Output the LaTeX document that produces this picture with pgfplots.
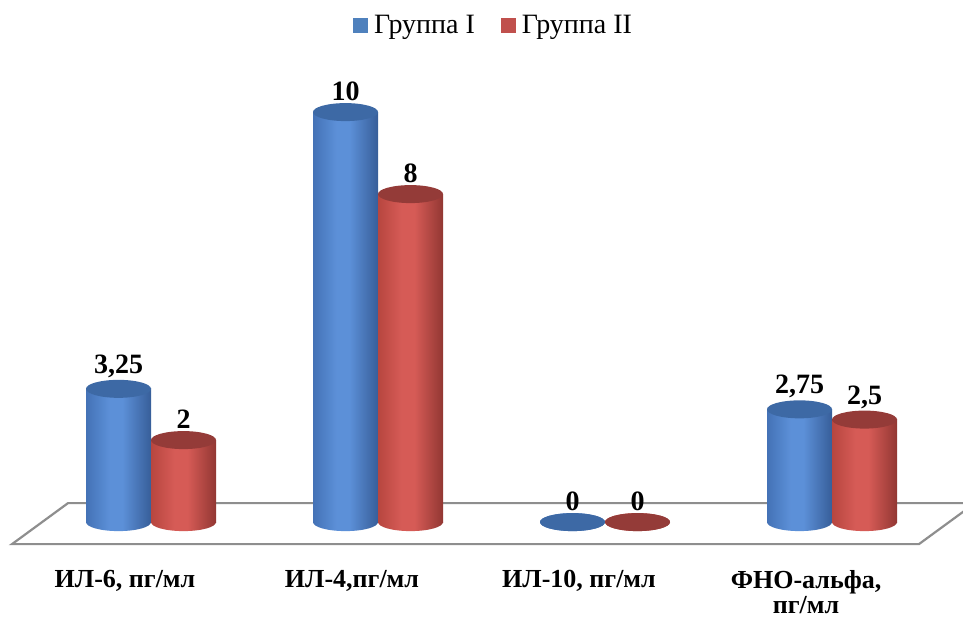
\documentclass[border=0pt]{standalone}
\usepackage{pgfplots}
\usepackage{pgfplotstable}
\pgfplotsset{compat=1.18}
\usepackage{fontspec}
\setmainfont{Liberation Serif}

\definecolor{blueL}{HTML}{4472B6}
\definecolor{blueH}{HTML}{5C90D8}
\definecolor{blueR}{HTML}{375E99}
\definecolor{blueC}{HTML}{3D69A5}
\definecolor{blueM}{HTML}{4F81BD}
\definecolor{redL}{HTML}{B7463F}
\definecolor{redH}{HTML}{D65B56}
\definecolor{redR}{HTML}{923733}
\definecolor{redC}{HTML}{943B38}
\definecolor{redM}{HTML}{C0504D}
\definecolor{floorgray}{HTML}{8E8E8E}

\pgfdeclarehorizontalshading{cylblue}{100bp}{color(0bp)=(blueL); color(25bp)=(blueL); color(43bp)=(blueH); color(53bp)=(blueH); color(75bp)=(blueR); color(100bp)=(blueR)}
\pgfdeclarehorizontalshading{cylred}{100bp}{color(0bp)=(redL); color(25bp)=(redL); color(43bp)=(redH); color(53bp)=(redH); color(75bp)=(redR); color(100bp)=(redR)}

\pgfdeclareplotmark{botblue}{\pgfpathellipse{\pgfqpoint{-32.5pt}{0pt}}{\pgfqpoint{32.5pt}{0pt}}{\pgfqpoint{0pt}{9pt}}\pgfshadepath{cylblue}{0}\pgfusepath{discard}}
\pgfdeclareplotmark{botred}{\pgfpathellipse{\pgfqpoint{32.5pt}{0pt}}{\pgfqpoint{32.5pt}{0pt}}{\pgfqpoint{0pt}{9pt}}\pgfshadepath{cylred}{0}\pgfusepath{discard}}
\pgfdeclareplotmark{capblue}{\pgfsetfillcolor{blueC}\pgfpathellipse{\pgfqpoint{-32.5pt}{0pt}}{\pgfqpoint{32.5pt}{0pt}}{\pgfqpoint{0pt}{9pt}}\pgfusepath{fill}}
\pgfdeclareplotmark{capred}{\pgfsetfillcolor{redC}\pgfpathellipse{\pgfqpoint{32.5pt}{0pt}}{\pgfqpoint{32.5pt}{0pt}}{\pgfqpoint{0pt}{9pt}}\pgfusepath{fill}}

\pgfplotstableread{
x g1 g2
0 3.25 2
1 10 8
2 0 0
3 2.75 2.5
}\datatable

% one bar of each group as its own path, so that each cylinder gets its own shading
\newcommand\barpair[2]{%
\addplot[ybar, bar width=65pt, bar shift=-32.5pt, draw=none, shade, shading=cylblue, forget plot,
  skip coords between index={0}{#1}, skip coords between index={#2}{4}] table[x=x,y=g1]{\datatable};
\addplot[ybar, bar width=65pt, bar shift=32.5pt, draw=none, shade, shading=cylred, forget plot,
  skip coords between index={0}{#1}, skip coords between index={#2}{4}] table[x=x,y=g2]{\datatable};
}

\begin{document}
\begin{tikzpicture}
\begin{axis}[
  width=963pt, height=617pt, scale only axis,
  xmin=-0.6652, xmax=3.5771, ymin=-2.317, ymax=12.732,
  axis line style={draw=none},
  major tick length=0pt,
  ytick=\empty,
  xtick={0,1,2,3},
  xticklabels={{ИЛ-6, пг/мл},{ИЛ-4,пг/мл},{ИЛ-10, пг/мл},{ФНО-альфа,\\пг/мл}},
  xticklabel style={font=\fontsize{26}{25}\selectfont\bfseries, align=center, anchor=north, inner sep=0pt, yshift=47pt, xshift=-26pt},
  /pgf/number format/use comma,
  /pgf/number format/assume math mode=true,
  legend style={at={(axis description cs:0.5125,1)}, anchor=north, yshift=-11pt, draw=none, fill=none,
     legend columns=2, font=\fontsize{28}{30}\selectfont,
     /tikz/every even column/.append style={column sep=24pt}},
  legend image code/.code={\fill[#1] (0pt,-7.5pt) rectangle (15pt,7.5pt); \path (19pt,0pt);},
]
\addlegendimage{fill=blueM, draw=none}
\addlegendentry{Группа I}
\addlegendimage{fill=redM, draw=none}
\addlegendentry{Группа II}

% floor
\addplot[draw=floorgray, line width=2.2pt, fill=white, forget plot] coordinates {(-0.6123,-0.537) (-0.3656,0.463) (3.630,0.463) (3.383,-0.537)} -- cycle;

% bottom ellipses
\addplot[only marks, mark=botblue, forget plot] table[x=x,y expr=0]{\datatable};
\addplot[only marks, mark=botred, forget plot] table[x=x,y expr=0]{\datatable};

% bars
\barpair{0}{1}
\barpair{1}{2}
\barpair{2}{3}
\barpair{3}{4}

% caps with labels
\addplot[only marks, mark=capblue, forget plot, nodes near coords,
  nodes near coords style={font=\fontsize{28}{30}\selectfont\bfseries, anchor=south, xshift=-32.5pt, yshift=10pt, inner sep=1pt}]
  table[x=x,y=g1]{\datatable};
\addplot[only marks, mark=capred, forget plot, nodes near coords,
  nodes near coords style={font=\fontsize{28}{30}\selectfont\bfseries, anchor=south, xshift=32.5pt, yshift=10pt, inner sep=1pt}]
  table[x=x,y=g2]{\datatable};
\end{axis}
\end{tikzpicture}
\end{document}
